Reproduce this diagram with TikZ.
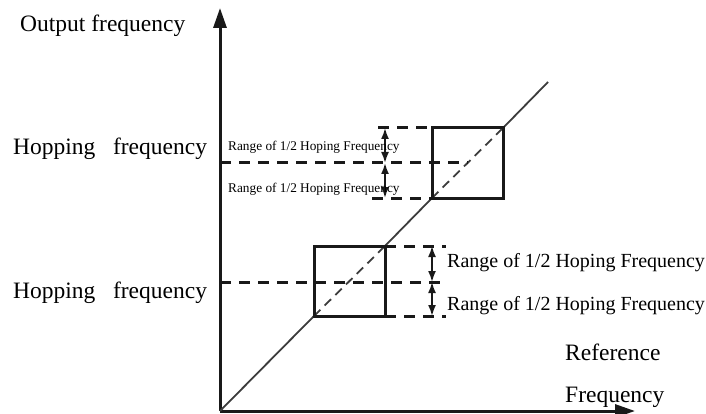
\documentclass[tikz,border=0pt]{standalone}
\usepackage{fontspec}
\setmainfont{Liberation Serif}
\usepackage{tikz}
\usetikzlibrary{arrows.meta,positioning,calc}
\definecolor{inkgray}{RGB}{25,25,25}
\definecolor{linegray}{RGB}{60,60,60}

\begin{document}
\begin{tikzpicture}[x=1pt,y=-1pt,
    axis/.style={line width=3pt, draw=inkgray, -{Triangle[length=20pt,width=13pt]}},
    boxline/.style={line width=3pt, draw=inkgray},
    hdash/.style={line width=3pt, draw=inkgray, dash pattern=on 11pt off 8pt},
    diag/.style={line width=1.8pt, draw=linegray},
    diagdash/.style={diag, dash pattern=on 9pt off 6pt},
    rangearrow/.style={line width=1.8pt, draw=inkgray,
        {Latex[length=11pt,width=8pt]}-{Latex[length=11pt,width=8pt]}},
    biglabel/.style={font=\fontsize{23.5}{26}\selectfont, inner sep=0pt, anchor=base west},
    midlabel/.style={font=\fontsize{20}{22}\selectfont, inner sep=0pt, anchor=base west},
    smalllabel/.style={font=\fontsize{13.3}{15}\selectfont, inner sep=0pt, anchor=base west}]
    \useasboundingbox (0,0) rectangle (706,414);

    % axes
    \coordinate (O) at (220,411);
    \coordinate (ytop) at (220,8);
    \coordinate (xend) at (635,411);
    \draw[axis] (O) -- (ytop);
    \draw[axis] (O) -- (xend);

    % boxes on the diagonal
    \coordinate (lowBL) at (314,316);
    \coordinate (lowTR) at (385,246);
    \coordinate (upBL) at (432,198);
    \coordinate (upTR) at (503,128);
    \coordinate (diagEnd) at (548,82);
    \draw[diag] (O) -- (lowBL);
    \draw[diagdash] (lowBL) -- (lowTR);
    \draw[diag] (lowTR) -- (upBL);
    \draw[diagdash] (upBL) -- (upTR);
    \draw[diag] (upTR) -- (diagEnd);
    \draw[boxline] (lowBL) rectangle (lowTR);
    \draw[boxline] (upBL) rectangle (upTR);

    % lower hopping band
    \coordinate (lowMidL) at (220,282);
    \coordinate (lowMidR) at (446,282);
    \coordinate (lowTopR) at (446,246);
    \coordinate (lowBotR) at (446,316);
    \draw[hdash] (lowMidL) -- (lowMidR);
    \draw[hdash] (lowTR) -- (lowTopR);
    \draw[hdash] (lowTR |- lowBL) -- (lowBotR);
    \draw[rangearrow] (432,246) -- (432,282);
    \draw[rangearrow] (432,282) -- (432,316);

    % upper hopping band
    \coordinate (upMidL) at (220,163);
    \coordinate (upMidR) at (468,163);
    \coordinate (upTopL) at (378,128);
    \coordinate (upBotL) at (372,198);
    \draw[hdash] (upMidL) -- (upMidR);
    \draw[hdash] (upTopL) -- (upBL |- upTR);
    \draw[hdash] (upBotL) -- (upBL);
    \draw[rangearrow] (385,128) -- (385,163);
    \draw[rangearrow] (385,163) -- (385,198);

    % labels
    \node[biglabel] (outLbl) at (20,32) {Output frequency};
    \node[biglabel] (hopUp) at (13,155) {Hopping~~~frequency};
    \node[biglabel] (hopLow) at (13,298) {Hopping~~~frequency};
    \node[biglabel] (refLbl) at (565,360) {Reference};
    \node[biglabel] (freqLbl) at (565,402) {Frequency};
    \node[midlabel] (rangeA) at (447,267) {Range of 1/2 Hoping Frequency};
    \node[midlabel] (rangeB) at (447,310) {Range of 1/2 Hoping Frequency};
    \node[smalllabel] (rangeC) at (228,151) {Range of 1/2 Hoping Frequency};
    \node[smalllabel] (rangeD) at (228,193) {Range of 1/2 Hoping Frequency};
\end{tikzpicture}
\end{document}
